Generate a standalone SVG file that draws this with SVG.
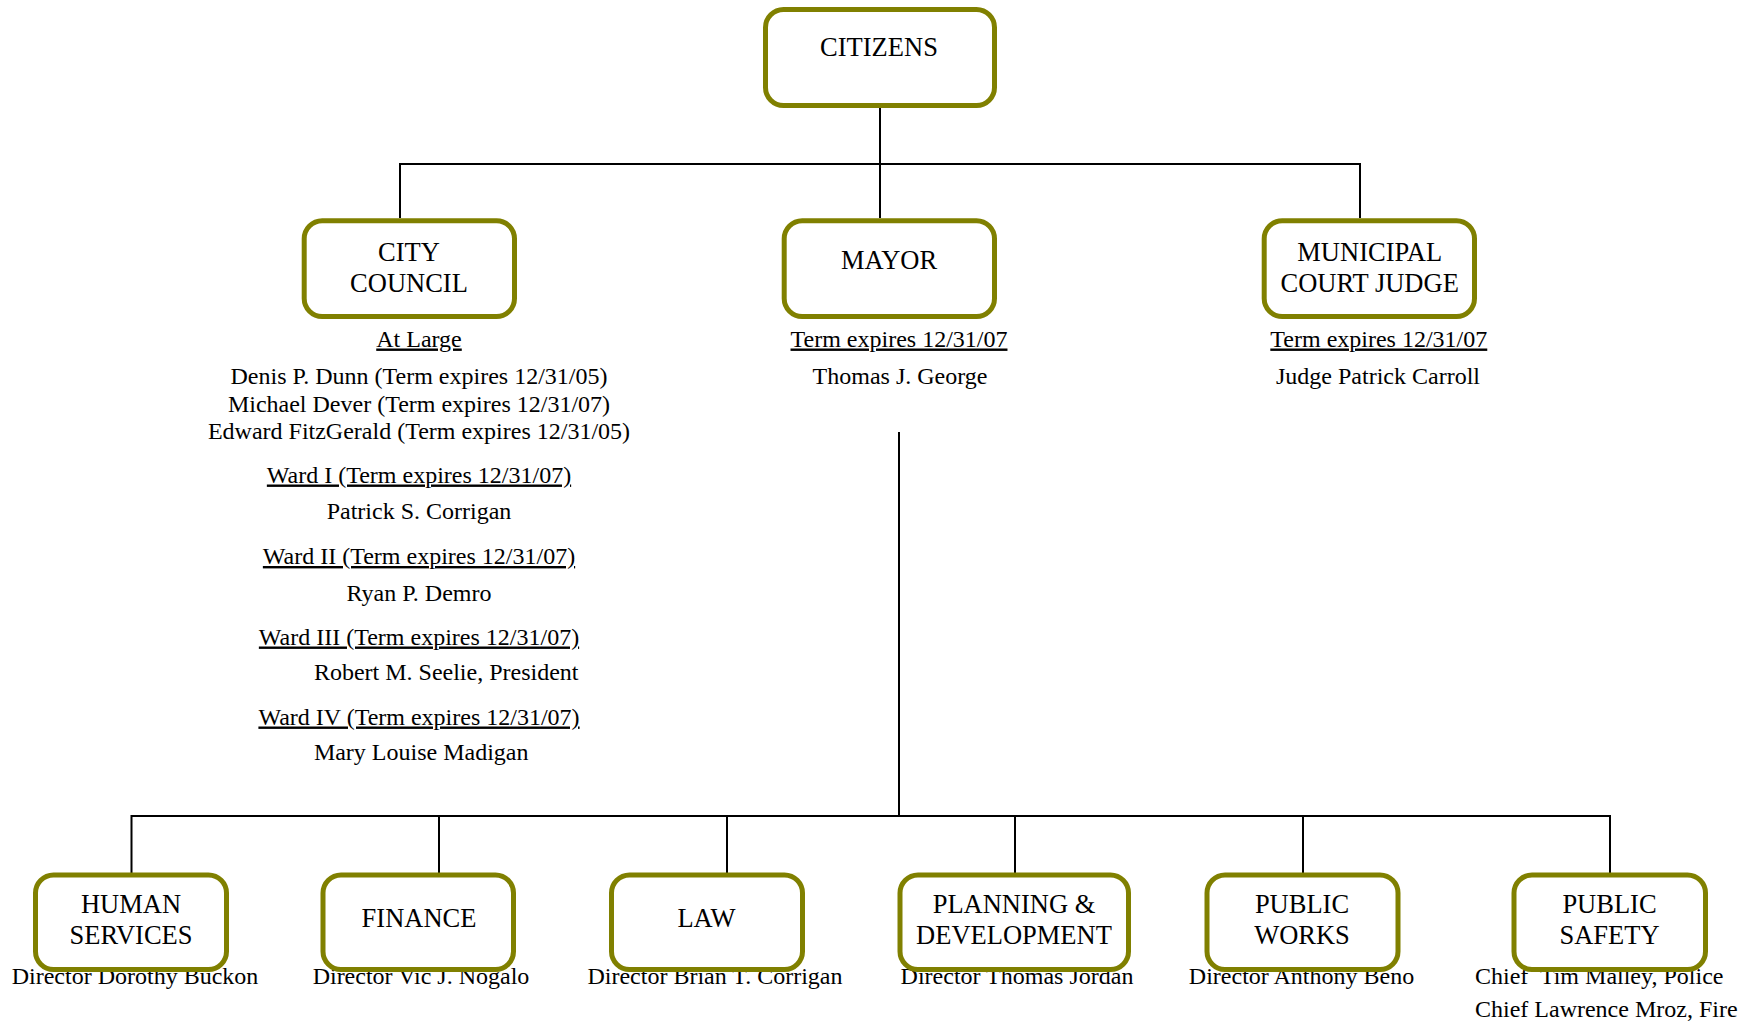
<svg xmlns="http://www.w3.org/2000/svg" width="1752" height="1023" viewBox="0 0 1752 1023">
<style>
.box{fill:#fff;stroke:#808000;stroke-width:5}
.lbl{font-family:"Liberation Serif","Times New Roman",serif;font-size:26.5px;fill:#000;text-anchor:middle}
.txt{font-family:"Liberation Serif","Times New Roman",serif;font-size:24px;fill:#000;text-anchor:middle}
.u{text-decoration:underline}
.st{text-anchor:start}
.conn{stroke:#000;stroke-width:2;fill:none}
</style>
<rect width="1752" height="1023" fill="#fff"/>
<g id="connectors">
<path class="conn" d="M880 108V218M400 164H1360M400 163V218M1360 163V218"/>
<path class="conn" d="M899 432V816M131.5 816H1610M131.5 815V874M439 815V874M727 815V874M1015 815V874M1303 815V874M1610 815V874"/>
</g>
<g id="citizens">
<rect class="box" x="765.5" y="9.5" width="229" height="96" rx="18"/>
<text class="lbl" x="879" y="56">CITIZENS</text>
</g>
<g id="city-council">
<rect class="box" x="304.2" y="220.8" width="210.3" height="95.7" rx="18"/>
<text class="lbl" x="409" y="261">CITY</text>
<text class="lbl" x="409" y="292">COUNCIL</text>
<text class="txt u" x="419" y="346.5">At Large</text>
<text class="txt" x="419" y="384">Denis P. Dunn (Term expires 12/31/05)</text>
<text class="txt" x="419" y="411.5">Michael Dever (Term expires 12/31/07)</text>
<text class="txt" x="419" y="438.5">Edward FitzGerald (Term expires 12/31/05)</text>
<text class="txt u" x="419" y="482.5">Ward I (Term expires 12/31/07)</text>
<text class="txt" x="419" y="519.3">Patrick S. Corrigan</text>
<text class="txt u" x="419" y="564">Ward II (Term expires 12/31/07)</text>
<text class="txt" x="419" y="600.5">Ryan P. Demro</text>
<text class="txt u" x="419" y="644.5">Ward III (Term expires 12/31/07)</text>
<text class="txt" x="446.2" y="680.3">Robert M. Seelie, President</text>
<text class="txt u" x="419" y="724.5">Ward IV (Term expires 12/31/07)</text>
<text class="txt" x="421.2" y="760.3">Mary Louise Madigan</text>
</g>
<g id="mayor">
<rect class="box" x="784.2" y="220.8" width="210.3" height="95.7" rx="18"/>
<text class="lbl" x="889" y="269">MAYOR</text>
<text class="txt u" x="899" y="346.5">Term expires 12/31/07</text>
<text class="txt" x="900" y="383.5">Thomas J. George</text>
</g>
<g id="municipal-court-judge">
<rect class="box" x="1264.2" y="220.8" width="210.3" height="95.7" rx="18"/>
<text class="lbl" x="1369.7" y="261">MUNICIPAL</text>
<text class="lbl" x="1369.7" y="292">COURT JUDGE</text>
<text class="txt u" x="1378.8" y="346.5">Term expires 12/31/07</text>
<text class="txt" x="1378" y="383.5">Judge Patrick Carroll</text>
</g>
<g id="human-services">
<text class="txt" x="135" y="983.5">Director Dorothy Buckon</text>
<rect class="box" x="35.5" y="875" width="191" height="94.5" rx="18"/>
<text class="lbl" x="131" y="912.5">HUMAN</text>
<text class="lbl" x="131" y="944">SERVICES</text>
</g>
<g id="finance">
<text class="txt" x="421" y="983.5">Director Vic J. Nogalo</text>
<rect class="box" x="323" y="875" width="190.5" height="94.5" rx="18"/>
<text class="lbl" x="419" y="926.5">FINANCE</text>
</g>
<g id="law">
<text class="txt" x="715" y="983.5">Director Brian T. Corrigan</text>
<rect class="box" x="611.5" y="875" width="191" height="94.5" rx="18"/>
<text class="lbl" x="706.5" y="926.5">LAW</text>
</g>
<g id="planning-development">
<text class="txt" x="1017" y="983.5">Director Thomas Jordan</text>
<rect class="box" x="900" y="875" width="228.5" height="94.5" rx="18"/>
<text class="lbl" x="1014" y="912.5">PLANNING &amp;</text>
<text class="lbl" x="1014" y="944">DEVELOPMENT</text>
</g>
<g id="public-works">
<text class="txt" x="1301.5" y="983.5">Director Anthony Beno</text>
<rect class="box" x="1207" y="875" width="191" height="94.5" rx="18"/>
<text class="lbl" x="1302" y="912.5">PUBLIC</text>
<text class="lbl" x="1302" y="944">WORKS</text>
</g>
<g id="public-safety">
<text class="txt st" x="1475" y="983.5" xml:space="preserve">Chief  Tim Malley, Police</text>
<text class="txt st" x="1475" y="1017">Chief Lawrence Mroz, Fire</text>
<rect class="box" x="1514" y="875" width="191.5" height="94.5" rx="18"/>
<text class="lbl" x="1609.5" y="912.5">PUBLIC</text>
<text class="lbl" x="1609.5" y="944">SAFETY</text>
</g>
</svg>
